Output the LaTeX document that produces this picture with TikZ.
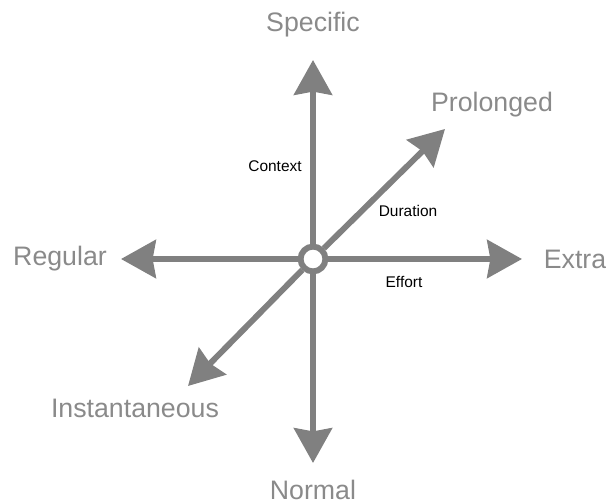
\documentclass[tikz,border=0pt]{standalone}
\usepackage{fontspec}
\setmainfont{Liberation Sans}
\usetikzlibrary{arrows.meta,positioning}
\definecolor{axisgray}{RGB}{128,128,128}
\definecolor{polegray}{RGB}{138,138,138}
\tikzset{
  axis/.style={draw=axisgray, line width=4.2pt,
    -{Stealth[length=0.87cm,width=0.95cm,inset=0.08cm]}},
  pole/.style={text=polegray, font=\fontsize{19}{22}\selectfont},
  dimension/.style={font=\fontsize{11}{13}\selectfont},
  hub/.style={circle, draw=axisgray, fill=white, line width=4.2pt,
    minimum size=0.62cm, inner sep=0pt},
}

\begin{document}
\begin{tikzpicture}[x=0.025cm, y=-0.025cm]
  \useasboundingbox (0,0) rectangle (606,504);

  % ends of the axes
  \coordinate (top)    at (313,60);
  \coordinate (bottom) at (313,463);
  \coordinate (left)   at (121,259);
  \coordinate (right)  at (522,259);
  \coordinate (far)    at (445,129);
  \coordinate (near)   at (188,386);

  \node[hub] (origin) at (313,259) {};

  \draw[axis] (origin) -- (top);
  \draw[axis] (origin) -- (bottom);
  \draw[axis] (origin) -- (left);
  \draw[axis] (origin) -- (right);
  \draw[axis] (origin) -- (far);
  \draw[axis] (origin) -- (near);

  % poles
  \node[pole] (specific)  at (313,25)  {Specific};
  \node[pole] (normal)    at (313,490) {Normal};
  \node[pole] (regular)   at (60,259)  {Regular};
  \node[pole] (extra)     at (575,259) {Extra};
  \node[pole] (prolonged) at (492,105) {Prolonged};
  \node[pole] (instant)   at (135,408) {Instantaneous};

  % dimensions
  \node[dimension] (context)  at (275,166) {Context};
  \node[dimension] (duration) at (408,211) {Duration};
  \node[dimension] (effort)   at (404,282) {Effort};
\end{tikzpicture}
\end{document}
